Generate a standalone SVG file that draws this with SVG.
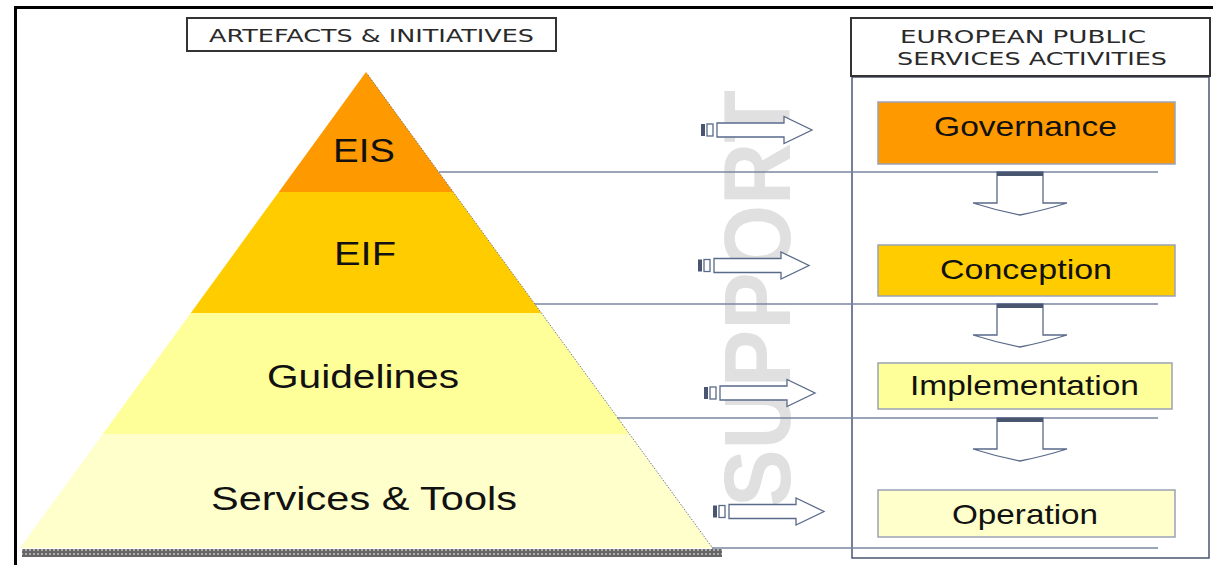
<svg xmlns="http://www.w3.org/2000/svg" width="1213" height="565" viewBox="0 0 1213 565">
<style>
.lbl{font-family:"Liberation Sans",Arial,sans-serif;fill:#111;text-anchor:start}
.hdr{font-family:"DejaVu Sans",Verdana,sans-serif;fill:#2a2a2a;font-size:18px}
.hline{stroke:#7a86a0;stroke-width:1.5;fill:none}
.abox{stroke:#9aa2b4;stroke-width:1.5}
.arr{fill:#fff;stroke:#5a6a8a;stroke-width:1.3}
</style>
<defs>
<pattern id="dots" width="4" height="4" patternUnits="userSpaceOnUse">
<rect width="4" height="4" fill="#666"/>
<circle cx="2" cy="2" r="0.9" fill="#cfcfcf"/>
</pattern>
<g id="rarrow">
<rect x="0" y="-6" width="4" height="12" fill="#4a5570"/>
<rect x="6" y="-6" width="6" height="12" fill="#fff" stroke="#5a6a8a" stroke-width="1.3"/>
<path class="arr" d="M16,-7 L83,-7 L83,-13.5 L111,0 L83,13.5 L83,7 L16,7 Z"/>
</g>
<g id="darrow">
<path class="arr" d="M997,0 L1043,0 L1043,31 L1067,31 Q1045,38 1020,43 Q995,38 973,31 L997,31 Z"/>
<rect x="997" y="0" width="46" height="4" fill="#4a5570"/>
</g>
</defs>
<rect width="1213" height="565" fill="#fff"/>
<!-- frame -->
<line x1="14" y1="7.5" x2="1213" y2="7.5" stroke="#000" stroke-width="3"/>
<line x1="15.5" y1="6" x2="15.5" y2="565" stroke="#000" stroke-width="3"/>

<!-- SUPPORT watermark -->
<text transform="translate(790,507) rotate(-90)" x="0" y="0" font-family="'Liberation Sans',Arial,sans-serif" font-weight="bold" font-size="94" fill="#e0e0e0" textLength="417" lengthAdjust="spacingAndGlyphs">SUPPORT</text>

<!-- right panel -->
<g id="panel">
<rect x="852" y="77" width="357" height="481" fill="none" stroke="#4a5570" stroke-width="1.5"/>
</g>
<g id="header-right">
<rect x="851" y="18" width="359" height="58" fill="#fff" stroke="#333" stroke-width="2"/>
<text class="hdr" x="900" y="43" textLength="246" lengthAdjust="spacingAndGlyphs">EUROPEAN PUBLIC</text>
<text class="hdr" x="897" y="65" textLength="270" lengthAdjust="spacingAndGlyphs">SERVICES ACTIVITIES</text>
</g>
<g id="header-left">
<rect x="187" y="18" width="369" height="33" fill="#fff" stroke="#333" stroke-width="2"/>
<text class="hdr" x="209" y="42" textLength="325" lengthAdjust="spacingAndGlyphs">ARTEFACTS &amp; INITIATIVES</text>
</g>

<!-- pyramid -->
<g id="eis">
<polygon points="366,72 453.2,192 278.8,192" fill="#ff9900"/>
<text class="lbl" x="333" y="162" font-size="34" textLength="62" lengthAdjust="spacingAndGlyphs">EIS</text>
</g>
<g id="eif">
<polygon points="278.8,192 453.2,192 541.2,313 190.8,313" fill="#ffcc00"/>
<text class="lbl" x="334" y="265" font-size="34" textLength="62" lengthAdjust="spacingAndGlyphs">EIF</text>
</g>
<g id="guidelines">
<polygon points="190.8,313 541.2,313 629.2,434 102.8,434" fill="#ffff99"/>
<text class="lbl" x="267" y="388" font-size="34" textLength="192" lengthAdjust="spacingAndGlyphs">Guidelines</text>
</g>
<g id="services-tools">
<polygon points="102.8,434 629.2,434 712,548 20,548" fill="#ffffcc"/>
<text class="lbl" x="211" y="510" font-size="34" textLength="306" lengthAdjust="spacingAndGlyphs">Services &amp; Tools</text>
</g>
<line x1="368" y1="75" x2="714" y2="550" stroke="#777" stroke-width="1" stroke-dasharray="1.5 1.5"/>
<rect x="22" y="549" width="700" height="8" fill="url(#dots)"/>

<!-- activity boxes -->
<g id="governance">
<rect class="abox" x="878" y="102" width="297" height="62" fill="#ff9900"/>
<text class="lbl" x="934" y="136" font-size="28" textLength="183" lengthAdjust="spacingAndGlyphs">Governance</text>
</g>
<g id="conception">
<rect class="abox" x="878" y="245" width="297" height="51" fill="#ffcc00"/>
<text class="lbl" x="940" y="279" font-size="28" textLength="172" lengthAdjust="spacingAndGlyphs">Conception</text>
</g>
<g id="implementation">
<rect class="abox" x="878" y="363" width="294" height="46" fill="#ffff99"/>
<text class="lbl" x="910" y="395" font-size="28" textLength="229" lengthAdjust="spacingAndGlyphs">Implementation</text>
</g>
<g id="operation">
<rect class="abox" x="878" y="490" width="297" height="47" fill="#ffffcc"/>
<text class="lbl" x="952" y="524" font-size="28" textLength="146" lengthAdjust="spacingAndGlyphs">Operation</text>
</g>

<!-- connectors -->
<g id="connectors">
<line class="hline" x1="439" y1="172" x2="1158" y2="172"/>
<line class="hline" x1="535" y1="304" x2="1158" y2="304"/>
<line class="hline" x1="617" y1="418" x2="1158" y2="418"/>
<line class="hline" x1="712" y1="548" x2="1158" y2="548"/>
<use href="#rarrow" transform="translate(701,130)"/>
<use href="#rarrow" transform="translate(698,265.5)"/>
<use href="#rarrow" transform="translate(704,393)"/>
<use href="#rarrow" transform="translate(713,511.5)"/>
<use href="#darrow" transform="translate(0,172)"/>
<use href="#darrow" transform="translate(0,304)"/>
<use href="#darrow" transform="translate(0,418)"/>
</g>
</svg>
